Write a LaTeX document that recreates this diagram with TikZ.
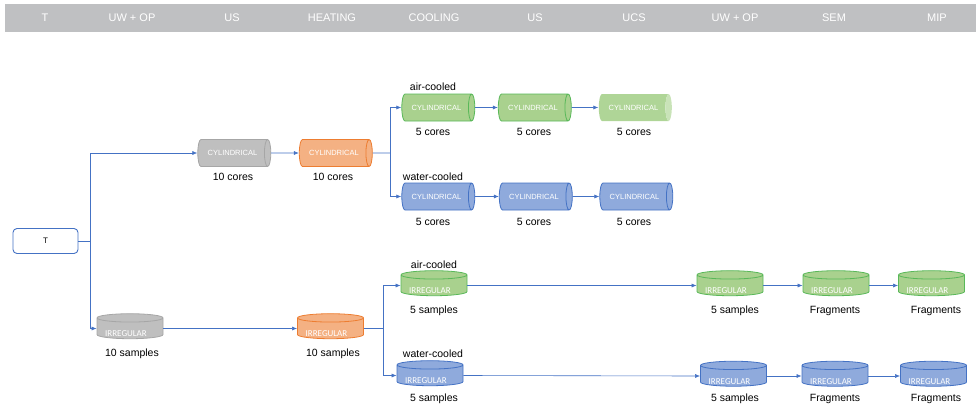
\documentclass[tikz,border=0pt]{standalone}
\usepackage{fontspec}
\setmainfont{Liberation Sans}
\newfontfamily\calib{Carlito}
\usetikzlibrary{shapes.geometric,arrows.meta}
\definecolor{lineblue}{HTML}{4472C4}
\definecolor{hdrgray}{HTML}{BFC0C2}
\definecolor{gfill}{HTML}{BFBFBF}\definecolor{gdraw}{HTML}{A6A6A6}
\definecolor{ofill}{HTML}{F4B183}\definecolor{odraw}{HTML}{ED7D31}
\definecolor{grfill}{HTML}{A9D18E}\definecolor{grdraw}{HTML}{59B859}
\definecolor{bfill}{HTML}{8FAADC}\definecolor{bdraw}{HTML}{4472C4}
\definecolor{lgfill}{HTML}{AFD597}\definecolor{lgend}{HTML}{C9E3B8}
\tikzset{
  conn/.style={draw=lineblue, line width=0.6pt, -{Latex[length=5pt,width=4pt]}},
  plain/.style={draw=lineblue, line width=0.6pt},
  hcyl/.style={cylinder, shape border rotate=0, aspect=1.2, minimum height=73pt, minimum width=27pt, inner sep=0pt, line width=0.8pt, text=white, font=\fontsize{7.5}{9}\selectfont},
  irr/.style={text=white, font=\calib\fontsize{9}{10}\selectfont, inner sep=0pt, anchor=base, xshift=-4pt, yshift=2.5pt},
  vcyl/.style={cylinder, shape border rotate=90, aspect=0.2, minimum width=66pt, minimum height=25pt, inner sep=0pt, line width=0.8pt, font=\calib\fontsize{9}{10}\selectfont},
  cgray/.style={draw=gdraw, fill=gfill},
  corange/.style={draw=odraw, fill=ofill},
  cgreen/.style={draw=grdraw, fill=grfill},
  cblue/.style={draw=bdraw, fill=bfill},
  clight/.style={draw=none, cylinder uses custom fill, cylinder body fill=lgfill, cylinder end fill=lgend},
  lab/.style={font=\fontsize{10.5}{12}\selectfont, text=black, inner sep=0pt},
  hdr/.style={text=white, font=\fontsize{11}{13}\selectfont, inner sep=0pt},
  tbox/.style={draw=lineblue, line width=0.9pt, rounded corners=4pt, minimum width=65pt, minimum height=25pt, inner sep=0pt, font=\fontsize{8}{9}\selectfont}
}
\newcommand\disksize{\phantom{IRREGULAR}}
\begin{document}
\begin{tikzpicture}[x=1pt,y=-1pt]
\useasboundingbox (0,0) rectangle (976,408);
\fill[hdrgray] (5,4) rectangle (976,32);
\node[hdr] (h1) at (45,18) {T};
\node[hdr] (h2) at (132,18) {UW + OP};
\node[hdr] (h3) at (232,18) {US};
\node[hdr] (h4) at (332,18) {HEATING};
\node[hdr] (h5) at (434,18) {COOLING};
\node[hdr] (h6) at (535,18) {US};
\node[hdr] (h7) at (634,18) {UCS};
\node[hdr] (h8) at (735,18) {UW + OP};
\node[hdr] (h9) at (834,18) {SEM};
\node[hdr] (h10) at (937,18) {MIP};

\node[tbox] (T) at (45.5,241) {T};
\coordinate (j1) at (90,241);

% upper: cylindrical
\node[hcyl,cgray] (c1) at (232.5,153) {CYLINDRICAL};
\node[hcyl,corange] (c2) at (334,153) {CYLINDRICAL};
\coordinate (j2) at (390,153);
\node[hcyl,cgreen] (ga1) at (436.5,107.5) {CYLINDRICAL};
\node[hcyl,cgreen] (ga2) at (533,107.5) {CYLINDRICAL};
\node[hcyl,clight] (ga3) at (633.5,107.5) {CYLINDRICAL};
\node[hcyl,cblue] (bw1) at (436.5,196.5) {CYLINDRICAL};
\node[hcyl,cblue] (bw2) at (534,196.5) {CYLINDRICAL};
\node[hcyl,cblue] (bw3) at (634.5,196.5) {CYLINDRICAL};

% lower: irregular
\node[vcyl,cgray] (d1) at (130,328.5) {\disksize};
\node[vcyl,corange] (d2) at (330.5,328.5) {\disksize};
\coordinate (j3) at (383,328.5);
\node[vcyl,cgreen] (da1) at (434,285.5) {\disksize};
\node[vcyl,cgreen] (da2) at (730,285.5) {\disksize};
\node[vcyl,cgreen] (da3) at (836,285.5) {\disksize};
\node[vcyl,cgreen] (da4) at (931.5,285.5) {\disksize};
\node[vcyl,cblue] (dw1) at (430,375.5) {\disksize};
\node[vcyl,cblue] (dw2) at (733.5,376) {\disksize};
\node[vcyl,cblue] (dw3) at (835,376) {\disksize};
\node[vcyl,cblue] (dw4) at (933.5,376) {\disksize};
\foreach \n in {d1,d2,da1,da2,da3,da4,dw1,dw2,dw3,dw4}
  \node[irr] (t-\n) at (\n.south) {IRREGULAR};

% labels
\node[lab] (l1) at (233,177) {10 cores};
\node[lab] (l2) at (333,177) {10 cores};
\node[lab] (l3) at (433,87) {air-cooled};
\node[lab] (l4) at (433,132) {5 cores};
\node[lab] (l5) at (534,132) {5 cores};
\node[lab] (l6) at (634,132) {5 cores};
\node[lab] (l7) at (433,177) {water-cooled};
\node[lab] (l8) at (433,222) {5 cores};
\node[lab] (l9) at (534,222) {5 cores};
\node[lab] (l10) at (634,222) {5 cores};
\node[lab] (l11) at (132,354) {10 samples};
\node[lab] (l12) at (333,354) {10 samples};
\node[lab] (l13) at (434,265) {air-cooled};
\node[lab] (l14) at (434,311) {5 samples};
\node[lab] (l15) at (735,311) {5 samples};
\node[lab] (l16) at (835,311) {Fragments};
\node[lab] (l17) at (936,311) {Fragments};
\node[lab] (l18) at (433,354) {water-cooled};
\node[lab] (l19) at (434,399) {5 samples};
\node[lab] (l20) at (735,399) {5 samples};
\node[lab] (l21) at (835,399) {Fragments};
\node[lab] (l22) at (936,399) {Fragments};

% connectors
\draw[plain] (T.east) -- (j1);
\draw[conn] (j1) |- (c1.west);
\draw[conn] (j1) |- (d1.west);
\draw[conn] (c1.east) -- (c2.west);
\draw[plain] (c2.east) -- (j2);
\draw[conn] (j2) |- (ga1.west);
\draw[conn] (j2) |- (bw1.west);
\draw[conn] (ga1.east) -- (ga2.west);
\draw[conn] (ga2.east) -- (ga3.west);
\draw[conn] (bw1.east) -- (bw2.west);
\draw[conn] (bw2.east) -- (bw3.west);
\draw[conn] (d1.east) -- (d2.west);
\draw[plain] (d2.east) -- (j3);
\draw[conn] (j3) |- (da1.west);
\draw[conn] (j3) |- (dw1.west);
\draw[conn] (da1.east) -- (da2.west);
\draw[conn] (da2.east) -- (da3.west);
\draw[conn] (da3.east) -- (da4.west);
\draw[conn] (dw1.east) -- (dw2.west);
\draw[conn] (dw2.east) -- (dw3.west);
\draw[conn] (dw3.east) -- (dw4.west);
\end{tikzpicture}
\end{document}
